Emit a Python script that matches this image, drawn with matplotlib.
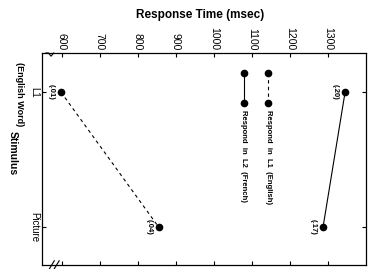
import matplotlib
matplotlib.use("Agg")
import matplotlib.pyplot as plt

plt.rcParams['font.family'] = ['Liberation Sans', 'DejaVu Sans']

stimulus = ["L1", "Picture"]
rt_l1_english = [598, 855]
rt_l2_french = [1345, 1287]
err_l1_english = ["(.01)", "(.04)"]
err_l2_french = ["(.20)", "(.17)"]
rt_ticks = [600, 700, 800, 900, 1000, 1100, 1200, 1300]

fig = plt.figure(figsize=(3.74, 2.69), dpi=100)
ax = fig.add_axes([42 / 374, 1 - 265 / 269, 324 / 374, 212 / 269])

ypos = list(range(len(stimulus)))
ax.plot(rt_l1_english, ypos, color='black', linestyle=(0, (3, 3)), linewidth=0.8,
        marker='o', markersize=4.5)
ax.plot(rt_l2_french, ypos, color='black', linestyle='-', linewidth=0.8,
        marker='o', markersize=4.5)

for x, y, s in zip(rt_l1_english + rt_l2_french, ypos + ypos, err_l1_english + err_l2_french):
    ax.annotate(s, (x, y), xytext=(-7, 0), textcoords='offset points', rotation=270,
                ha='center', va='center', fontsize=5.5, fontweight='bold')

ax.set_xlim(548, 1400)
ax.set_ylim(1.28, -0.29)

ax.set_xticks(rt_ticks)
ax.set_xticklabels([str(t) for t in rt_ticks], rotation=270, fontsize=7.5)
ax.set_yticks(ypos)
ax.set_yticklabels(stimulus, rotation=270, fontsize=7, va='center')
ax.tick_params(axis='x', direction='in', top=True, bottom=True, labeltop=True,
               labelbottom=False, length=3, width=0.8, pad=2)
ax.tick_params(axis='y', direction='in', left=True, right=True, length=3, width=0.8, pad=2)
for sp in ax.spines.values():
    sp.set_linewidth(0.9)

# second line of the L1 label and axis titles
ax.text(-0.068, 1 - (94 - 53) / 212, "(English Word)", transform=ax.transAxes, rotation=270,
        ha='center', va='center', fontsize=6.5, fontweight='bold')
fig.text(13 / 374, 1 - 153 / 269, "Stimulus", rotation=270, ha='center', va='center',
         fontsize=7.5, fontweight='bold')
fig.text(200 / 374, 1 - 15 / 269, "Response Time (msec)", ha='center', va='center',
         fontsize=8.5, fontweight='bold')

# axis break marks near 600
ax.plot([0.012, 0.02, 0.028, 0.036], [1.0, 1.0, 0.985, 1.0], transform=ax.transAxes,
        color='black', linewidth=0.8, clip_on=False)
for x0 in [0.03, 0.045]:
    ax.plot([x0 - 0.008, x0 + 0.008], [-0.02, 0.02], transform=ax.transAxes,
            color='black', linewidth=0.8, clip_on=False)

# legend drawn by hand, rotated like the rest of the chart
leg = [("Respond  in  L1  (English)", (0, (3, 3)), 0.698),
       ("Respond  in  L2  (French)", '-', 0.623)]
for label, ls, xf in leg:
    ax.plot([xf, xf], [0.906, 0.764], transform=ax.transAxes, color='black', linestyle=ls,
            linewidth=0.8, marker='o', markersize=4.5)
    ax.text(xf, 0.73, label, transform=ax.transAxes, rotation=270, ha='center', va='top',
            fontsize=5.5, fontweight='bold')

plt.savefig("out.png", dpi=100)
plt.close()
